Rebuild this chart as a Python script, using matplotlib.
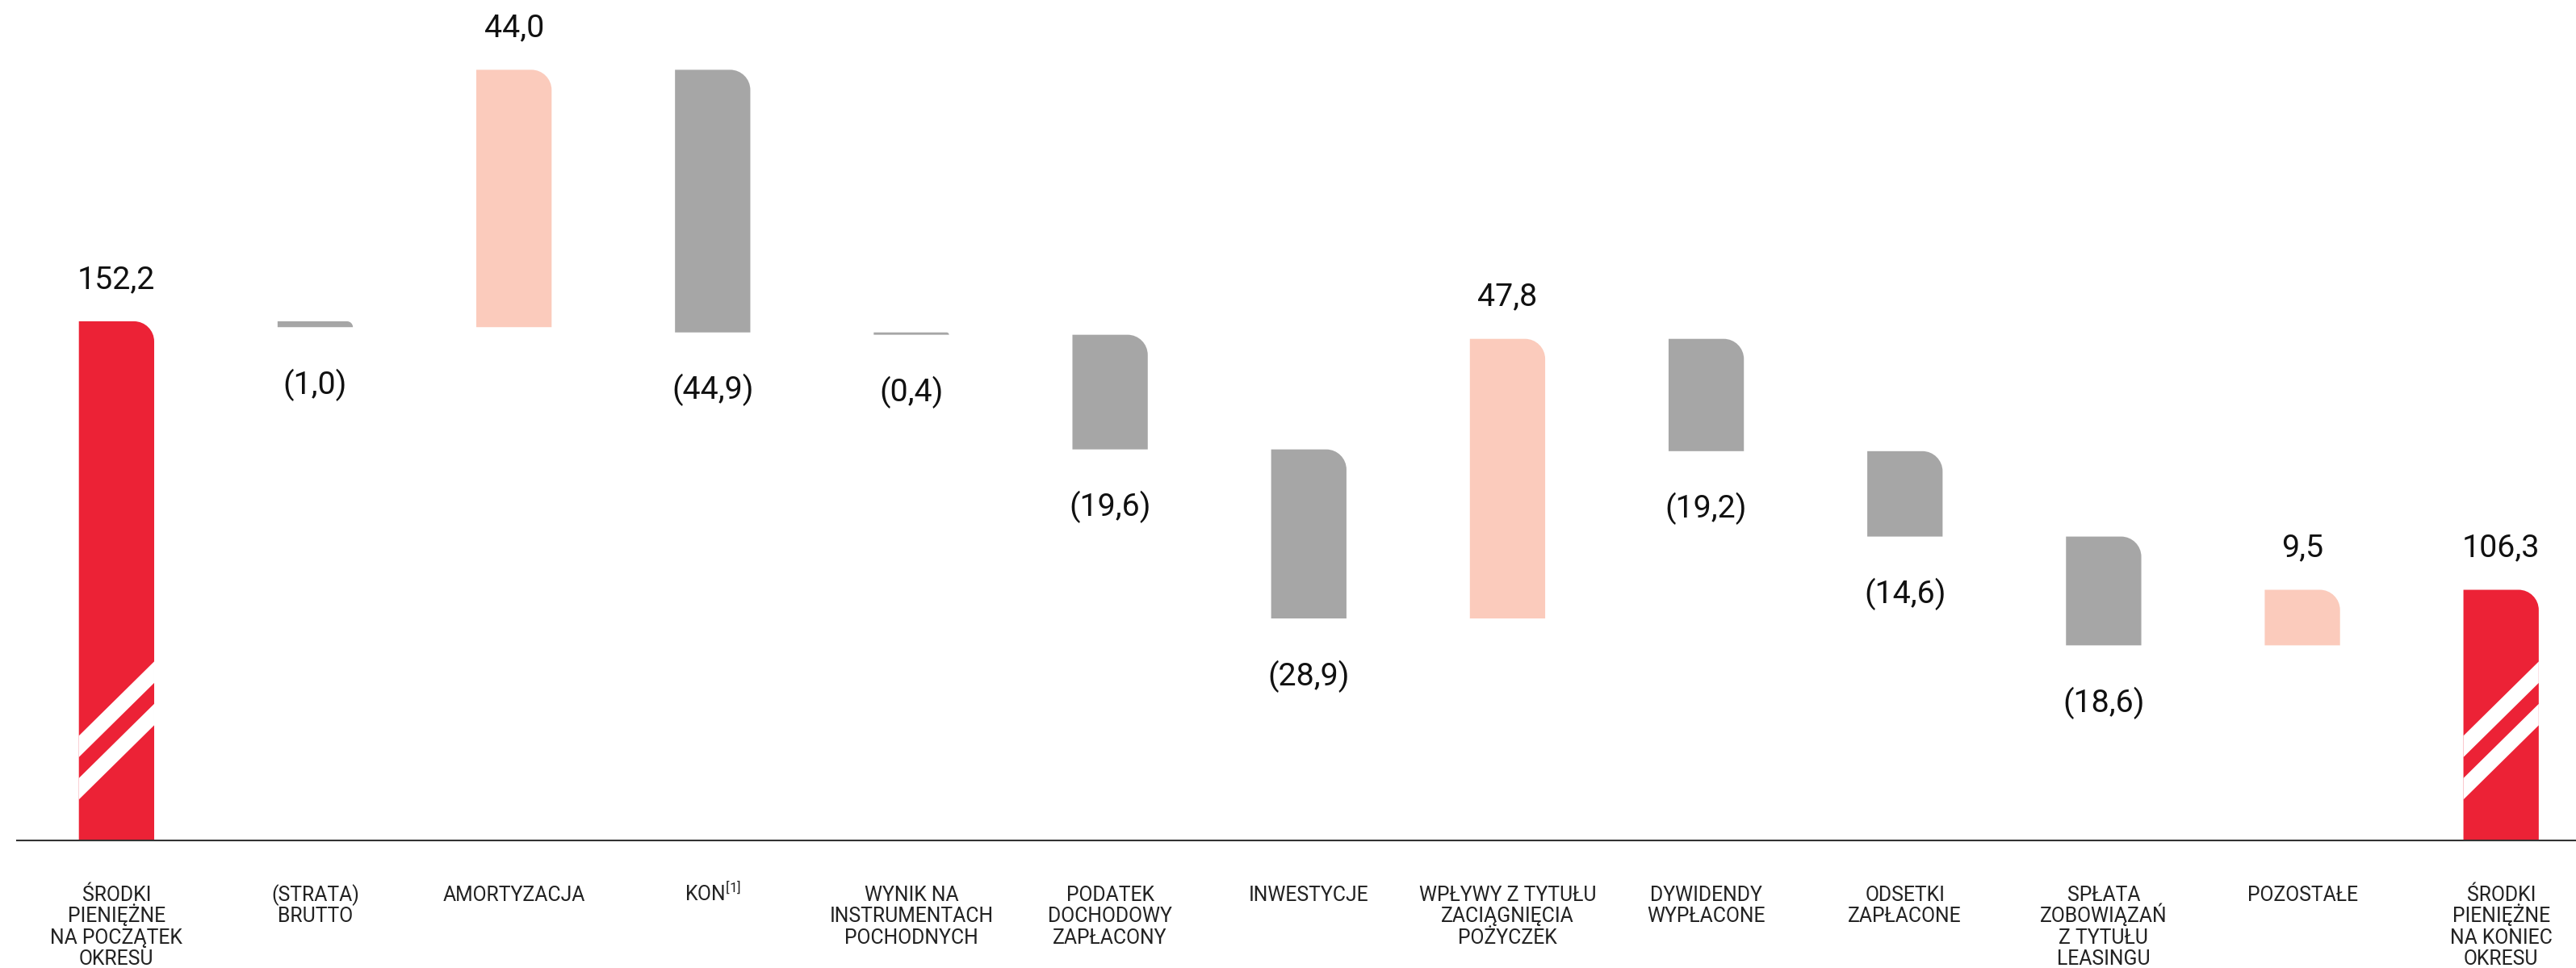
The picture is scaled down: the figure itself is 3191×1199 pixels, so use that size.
import matplotlib
matplotlib.use('Agg')
import matplotlib.pyplot as plt
from matplotlib.path import Path
from matplotlib.patches import PathPatch, Polygon

# ---------------- data ----------------
categories = [
    "ŚRODKI\nPIENIĘŻNE\nNA POCZĄTEK\nOKRESU",
    "(STRATA)\nBRUTTO",
    "AMORTYZACJA",
    "KON$^{[1]}$",
    "WYNIK NA\nINSTRUMENTACH\nPOCHODNYCH",
    "PODATEK\nDOCHODOWY\nZAPŁACONY",
    "INWESTYCJE",
    "WPŁYWY Z TYTUŁU\nZACIĄGNIĘCIA\nPOŻYCZEK",
    "DYWIDENDY\nWYPŁACONE",
    "ODSETKI\nZAPŁACONE",
    "SPŁATA\nZOBOWIĄZAŃ\nZ TYTUŁU\nLEASINGU",
    "POZOSTAŁE",
    "ŚRODKI\nPIENIĘŻNE\nNA KONIEC\nOKRESU",
]
values = [152.2, -1.0, 44.0, -44.9, -0.4, -19.6, -28.9, 47.8, -19.2, -14.6, -18.6, 9.5, 106.3]
kinds = ["total"] + ["delta"] * 11 + ["total"]

# ---------------- style ----------------
RED = "#EC2236"
PINK = "#FBCBBC"
GRAY = "#A6A6A6"
TEXT = "#111111"
LABEL = "#222222"
LINE = "#333333"

W, H, DPI = 3191, 1199, 100
plt.rcParams['mathtext.fontset'] = 'custom'
plt.rcParams['mathtext.rm'] = 'Roboto'
plt.rcParams['mathtext.it'] = 'Roboto'
plt.rcParams['mathtext.bf'] = 'Roboto'

fig = plt.figure(figsize=(W / DPI, H / DPI), dpi=DPI)
fig.patch.set_facecolor("white")
ax = fig.add_axes([0, 0.13136, 1, 0.86864])
ax.set_xlim(-0.5864, 12.377)
ax.set_ylim(63.38, 207.13)
ax.axis("off")

BAR_W = 0.379
RADIUS_PX = 25.0
K = 0.5523

# data units per pixel
p0 = ax.transData.transform((0, 0))
p1 = ax.transData.transform((1, 1))
px_per_x = p1[0] - p0[0]
px_per_y = p1[1] - p0[1]

def rounded_bar(xc, lo, hi, color):
    x0, x1 = xc - BAR_W / 2, xc + BAR_W / 2
    hpx = (hi - lo) * px_per_y
    rpx = min(RADIUS_PX, hpx)
    rx = rpx / px_per_x
    ry = rpx / px_per_y
    verts = [
        (x0, lo), (x1, lo), (x1, hi - ry),
        (x1, hi - ry + K * ry), (x1 - rx + K * rx, hi), (x1 - rx, hi),
        (x0, hi), (x0, lo),
    ]
    codes = [Path.MOVETO, Path.LINETO, Path.LINETO,
             Path.CURVE4, Path.CURVE4, Path.CURVE4,
             Path.LINETO, Path.CLOSEPOLY]
    ax.add_patch(PathPatch(Path(verts, codes), facecolor=color, edgecolor="none", zorder=2))

def fmt(v):
    s = f"{abs(v):.1f}".replace(".", ",")
    return f"({s})" if v < 0 else s

# break marks (two white diagonal stripes) on the total bars
BREAK_CENTERS = [85.86, 78.62]
BREAK_THICK_PX = 26.5
BREAK_DROP_PX = 92.0

running = 0.0
for i, (v, k) in enumerate(zip(values, kinds)):
    if k == "total":
        lo, hi = 0.0, v
        running = v
        color = RED
    else:
        new = running + v
        lo, hi = min(running, new), max(running, new)
        running = new
        color = PINK if v > 0 else GRAY
    rounded_bar(i, lo, hi, color)

    if k == "total":
        x0, x1 = i - BAR_W / 2, i + BAR_W / 2
        half_drop = BREAK_DROP_PX / 2 / px_per_y
        half_t = BREAK_THICK_PX / 2 / px_per_y
        for c in BREAK_CENTERS:
            poly = [(x0, c - half_drop + half_t), (x1, c + half_drop + half_t),
                    (x1, c + half_drop - half_t), (x0, c - half_drop - half_t)]
            ax.add_patch(Polygon(poly, closed=True, facecolor="white",
                                 edgecolor="none", zorder=3))

    if v >= 0:
        ax.annotate(fmt(v), xy=(i, hi), xytext=(0, 29.5), textcoords="offset points",
                    ha="center", va="baseline", fontsize=28.4, family="Roboto",
                    color=TEXT, annotation_clip=False)
    else:
        ax.annotate(fmt(v), xy=(i, lo), xytext=(0, -59.5), textcoords="offset points",
                    ha="center", va="baseline", fontsize=28.4, family="Roboto",
                    color=TEXT, annotation_clip=False)

# category labels, line by line
for i, lab in enumerate(categories):
    for j, line in enumerate(lab.split("\n")):
        ax.annotate(line, xy=(i, 0), xycoords=("data", "axes fraction"),
                    xytext=(0, -(53.5 + j * 19.0)), textcoords="offset points",
                    ha="center", va="baseline", fontsize=17.8, family="Roboto",
                    fontweight="normal", color=LABEL, annotation_clip=False)

# baseline
ax.axhline(63.38, xmin=21 / W, xmax=1.0, color=LINE, lw=1.5, zorder=4, clip_on=False)

fig.savefig("out.png", dpi=DPI, facecolor="white")
